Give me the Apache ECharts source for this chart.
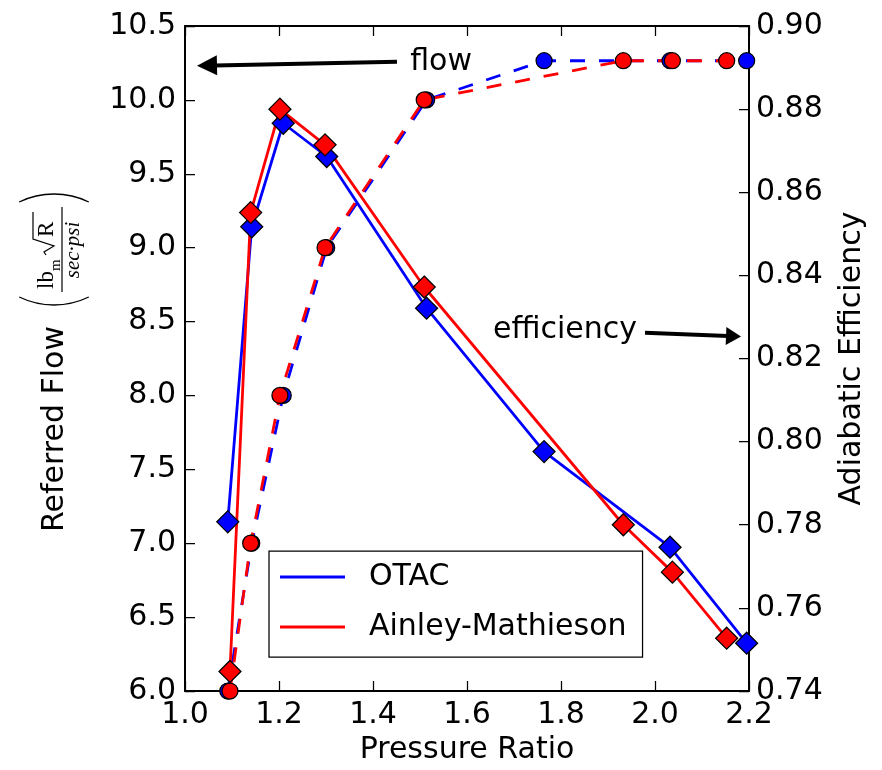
<!DOCTYPE html>
<html>
<head>
<meta charset="utf-8">
<script src="https://cdn.jsdelivr.net/npm/echarts@6/dist/echarts.min.js"></script>
<style>
  html, body { margin: 0; padding: 0; background: #fff; }
  #chart { width: 882px; height: 770px; }
</style>
</head>
<body>
<div id="chart"></div>
<script>
// Pressure ratio at each operating point (x positions)
const pressureOtac   = [1.091, 1.142, 1.209, 1.3015, 1.514, 1.764, 2.032, 2.195];
const pressureAinley = [1.0957, 1.1397, 1.202, 1.298, 1.509, 1.9326, 2.037, 2.1525];

// Referred flow (left axis)
const flowOtac   = [6.0, 7.0, 8.0, 9.0, 10.0, 10.265, 10.265, 10.265];
const flowAinley = [6.0, 7.0, 8.0, 9.0, 10.0, 10.265, 10.265, 10.265];

// Adiabatic efficiency (right axis)
const effOtac   = [0.7807, 0.8517, 0.8766, 0.8686, 0.8321, 0.7976, 0.7746, 0.7515];
const effAinley = [0.7447, 0.8551, 0.8800, 0.8714, 0.8372, 0.7800, 0.7686, 0.7527];

// Axis ranges and ticks
const xRange = { min: 1.0, max: 2.2, interval: 0.2 };
const flowRange = { min: 6.0, max: 10.5, interval: 0.5 };
const effRange = { min: 0.74, max: 0.90, interval: 0.02 };

const legendNames = ['OTAC', 'Ainley-Mathieson'];

const BLUE = '#0000ff';
const RED = '#ff0000';
const SANS = '"DejaVu Sans", "Bitstream Vera Sans", sans-serif';
const SERIF = '"Liberation Serif", "DejaVu Serif", serif';

const zip = (xs, ys) => xs.map((x, i) => [x, ys[i]]);

const chart = echarts.init(document.getElementById('chart'), null, { renderer: 'canvas' });

const axisLine = { show: true, onZero: false, lineStyle: { color: '#000', width: 2 } };
const axisTick = { show: true, inside: true, length: 10, lineStyle: { color: '#000', width: 1.25 } };
const labelStyle = { color: '#000', fontSize: 30, fontFamily: SANS };

function flowSeries(name, xs, ys, color) {
  return {
    name: name, type: 'line', xAxisIndex: 0, yAxisIndex: 0,
    data: zip(xs, ys), z: 2,
    lineStyle: { color: color, width: 2.8, type: [15, 14] },
    symbol: 'circle', symbolSize: 16,
    itemStyle: { color: color, borderColor: '#000', borderWidth: 1.25 },
    emphasis: { disabled: true }
  };
}
function effSeries(name, xs, ys, color) {
  return {
    name: name, type: 'line', xAxisIndex: 0, yAxisIndex: 1,
    data: zip(xs, ys), z: 3,
    lineStyle: { color: color, width: 2.8 },
    symbol: 'diamond', symbolSize: 22,
    itemStyle: { color: color, borderColor: '#000', borderWidth: 1.25 },
    emphasis: { disabled: true }
  };
}

chart.setOption({
  animation: false,
  backgroundColor: '#fff',
  grid: { left: 185, right: 133, top: 26, bottom: 79, containLabel: false },
  legend: {
    orient: 'vertical', left: 269, top: 551,
    padding: [8, 16, 12, 11], itemGap: 14,
    itemWidth: 65, itemHeight: 3, icon: 'rect',
    backgroundColor: '#fff', borderColor: '#000', borderWidth: 1.25, borderRadius: 0,
    textStyle: { color: '#000', fontSize: 30, fontFamily: SANS, lineHeight: 36, padding: [0, 0, 0, 19] },
    selectedMode: false,
    data: [
      { name: legendNames[0], itemStyle: { color: BLUE, borderWidth: 0 } },
      { name: legendNames[1], itemStyle: { color: RED, borderWidth: 0 } }
    ]
  },
  xAxis: [
    {
      type: 'value', position: 'bottom', min: xRange.min, max: xRange.max, interval: xRange.interval,
      axisLine: axisLine, axisTick: axisTick, splitLine: { show: false },
      axisLabel: Object.assign({ margin: 9, formatter: v => v.toFixed(1) }, labelStyle),
      name: 'Pressure Ratio', nameLocation: 'middle', nameGap: 43,
      nameTextStyle: { color: '#000', fontSize: 30, fontFamily: SANS }
    },
    {
      type: 'value', position: 'top', min: xRange.min, max: xRange.max, interval: xRange.interval,
      axisLine: axisLine, axisTick: axisTick, splitLine: { show: false },
      axisLabel: { show: false }
    }
  ],
  yAxis: [
    {
      type: 'value', position: 'left', min: flowRange.min, max: flowRange.max, interval: flowRange.interval,
      axisLine: axisLine, axisTick: axisTick, splitLine: { show: false },
      axisLabel: Object.assign({ margin: 9, formatter: v => v.toFixed(1) }, labelStyle)
    },
    {
      type: 'value', position: 'right', min: effRange.min, max: effRange.max, interval: effRange.interval,
      axisLine: axisLine, axisTick: axisTick, splitLine: { show: false },
      axisLabel: Object.assign({ margin: 7, formatter: v => v.toFixed(2) }, labelStyle),
      name: 'Adiabatic Efficiency', nameLocation: 'middle', nameGap: 88,
      nameTextStyle: { color: '#000', fontSize: 30, fontFamily: SANS }
    }
  ],
  series: [
    flowSeries('OTAC flow', pressureOtac, flowOtac, BLUE),
    flowSeries('Ainley-Mathieson flow', pressureAinley, flowAinley, RED),
    effSeries(legendNames[0], pressureOtac, effOtac, BLUE),
    effSeries(legendNames[1], pressureAinley, effAinley, RED)
  ]
});

// Annotation anchors in data space: [x, y, yAxisIndex]
const flowNote = { text: 'flow', at: [1.479, 10.256, 0], tail: [1.451, 10.258, 0], head: [1.0255, 10.231, 0] };
const effNote = { text: 'efficiency', at: [1.9617, 0.8269, 1], tail: [1.9787, 0.8262, 1], head: [2.183, 0.8253, 1] };

const toPx = p => chart.convertToPixel({ xAxisIndex: 0, yAxisIndex: p[2] }, [p[0], p[1]]);

function arrow(tail, head, headLen, headW) {
  const a = toPx(tail), b = toPx(head);
  const dx = b[0] - a[0], dy = b[1] - a[1];
  const len = Math.hypot(dx, dy);
  const ux = dx / len, uy = dy / len;
  const bx = b[0] - ux * headLen, by = b[1] - uy * headLen;
  const nx = -uy, ny = ux;
  return [
    { type: 'line', shape: { x1: a[0], y1: a[1], x2: bx + ux * 2, y2: by + uy * 2 },
      style: { stroke: '#000', lineWidth: 4 }, z: 10 },
    { type: 'polygon', shape: { points: [
        [b[0], b[1]],
        [bx + nx * headW / 2, by + ny * headW / 2],
        [bx - nx * headW / 2, by - ny * headW / 2]
      ] }, style: { fill: '#000' }, z: 10 }
  ];
}

function note(n, align) {
  const p = toPx(n.at);
  return { type: 'text', x: p[0], y: p[1], z: 10,
    style: { text: n.text, fill: '#000', font: '30px ' + SANS, align: align, verticalAlign: 'middle' } };
}

// Left axis title, rotated to read bottom-to-top, with the unit fraction
function leftTitle() {
  const lw = 1.3;
  return {
    type: 'group', x: 55, y: 362, rotation: Math.PI / 2, z: 10,
    children: [
      { type: 'text', x: -170, y: 0,
        style: { text: 'Referred Flow', font: '30px ' + SANS, fill: '#000', align: 'left', verticalAlign: 'middle' } },
      { type: 'arc', shape: { cx: 57 + 80, cy: -1, r: 80, startAngle: Math.PI - 0.45, endAngle: Math.PI + 0.45 },
        style: { stroke: '#000', lineWidth: lw, fill: null } },
      { type: 'arc', shape: { cx: 168 - 80, cy: -1, r: 80, startAngle: -0.45, endAngle: 0.45 },
        style: { stroke: '#000', lineWidth: lw, fill: null } },
      { type: 'text', x: 73, y: -8,
        style: { text: 'lb', font: '23px ' + SERIF, fill: '#000', align: 'left', verticalAlign: 'middle' } },
      { type: 'text', x: 91, y: 1,
        style: { text: 'm', font: '15px ' + SERIF, fill: '#000', align: 'left', verticalAlign: 'middle' } },
      { type: 'polyline', shape: { points: [[107, -9], [110, -11], [116, -1], [123, -22], [150, -22]] },
        style: { stroke: '#000', lineWidth: 1.2, fill: null } },
      { type: 'text', x: 125, y: -8,
        style: { text: 'R', font: '23px ' + SERIF, fill: '#000', align: 'left', verticalAlign: 'middle' } },
      { type: 'line', shape: { x1: 70, y1: 7, x2: 155, y2: 7 }, style: { stroke: '#000', lineWidth: 1.2 } },
      { type: 'text', x: 112, y: 18,
        style: { text: 'sec\u00b7psi', font: 'italic 21px ' + SERIF, fill: '#000', align: 'center', verticalAlign: 'middle' } }
    ]
  };
}

chart.setOption({
  graphic: [].concat(
    arrow(flowNote.tail, flowNote.head, 20, 20),
    arrow(effNote.tail, effNote.head, 15, 18),
    [note(flowNote, 'left'), note(effNote, 'right'), leftTitle()]
  )
});
</script>
</body>
</html>
